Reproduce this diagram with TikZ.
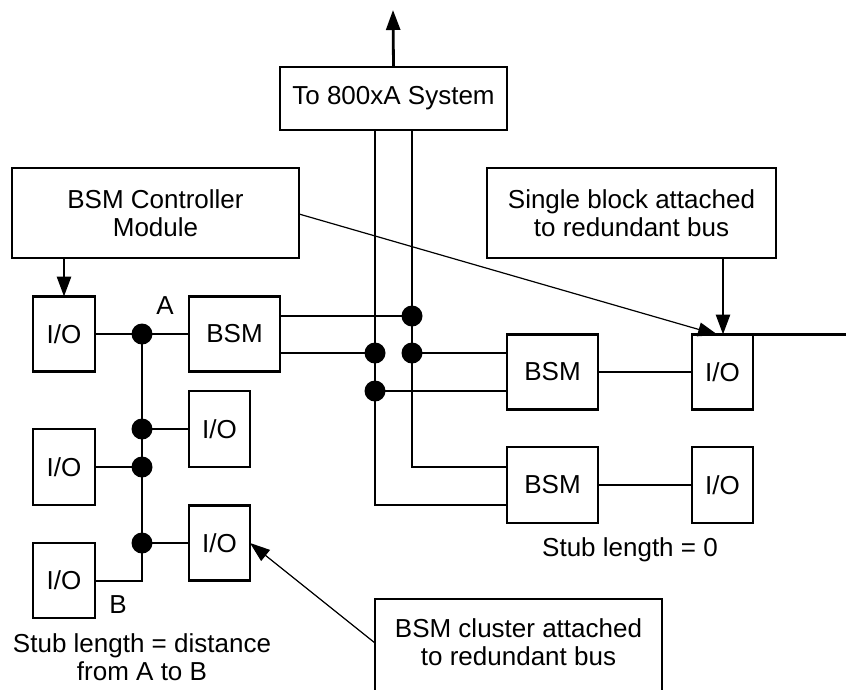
\documentclass[tikz,border=0pt]{standalone}
\usepackage{fontspec}
\setmainfont{Liberation Sans}
\usetikzlibrary{arrows.meta}
\begin{document}
\begin{tikzpicture}[x=1pt,y=-1pt,
  box/.style={draw,line width=2.8pt,inner sep=0pt,outer sep=0pt,align=center,
    font=\fontsize{26}{28}\selectfont},
  lbl/.style={inner sep=0pt,align=center,font=\fontsize{26}{28}\selectfont},
  bus/.style={line width=2.8pt},
  thin/.style={line width=1.2pt},
  dot/.style={circle,fill=black,inner sep=0pt,minimum size=21pt},
  tip/.style={-{Triangle[length=20pt,width=14pt]}}]
\useasboundingbox (0,0) rectangle (846,689);
% boxes
\node[box,minimum width=227pt,minimum height=63pt] (sys) at (393.5,98.5) {To 800xA System};
\node[box,minimum width=287pt,minimum height=90pt] (ctrl) at (155.5,213) {BSM Controller\\Module};
\node[box,minimum width=289pt,minimum height=90pt] (single) at (631.5,213) {Single block attached\\to redundant bus};
\node[box,minimum width=62pt,minimum height=75pt] (io1) at (64,334) {I/O};
\node[box,minimum width=91pt,minimum height=75pt] (bsmA) at (234.5,334) {BSM};
\node[box,minimum width=61pt,minimum height=76pt] (io2) at (219.5,429) {I/O};
\node[box,minimum width=62pt,minimum height=76pt] (io3) at (64,467) {I/O};
\node[box,minimum width=61pt,minimum height=75pt] (io4) at (219.5,543) {I/O};
\node[box,minimum width=62pt,minimum height=75pt] (io5) at (64,580.5) {I/O};
\node[box,minimum width=91pt,minimum height=75pt] (bsm1) at (552.5,372) {BSM};
\node[box,minimum width=61pt,minimum height=75pt] (ior1) at (722.5,372) {I/O};
\node[box,minimum width=91pt,minimum height=76pt] (bsm2) at (552.5,485) {BSM};
\node[box,minimum width=61pt,minimum height=76pt] (ior2) at (722.5,485) {I/O};
% cluster box (open at the bottom edge)
\coordinate (cl1) at (375,700);
\coordinate (cl2) at (375,599);
\coordinate (cl3) at (662,599);
\coordinate (cl4) at (662,700);
\draw[bus] (cl1) -- (cl2) -- (cl3) -- (cl4);
\node[lbl] (cltext) at (518.5,642) {BSM cluster attached\\to redundant bus};
% labels
\node[lbl] (labA) at (165,306) {A};
\node[lbl] (labB) at (118,605) {B};
\node[lbl] (stub1) at (142,657) {Stub length = distance\\from A to B};
\node[lbl] (stub2) at (630,550) {Stub length = 0};
% dots
\node[dot] (dA) at (142,334) {};
\node[dot] (dB) at (142,429) {};
\node[dot] (dC) at (142,467) {};
\node[dot] (dD) at (142,543) {};
\node[dot] (r1) at (412,316) {};
\node[dot] (r2) at (375,353) {};
\node[dot] (r3) at (412,353) {};
\node[dot] (r4) at (375,391) {};
\coordinate (top) at (393,10);
\coordinate (cB) at (142,581);
\coordinate (busLb) at (375,505);
\coordinate (busRb) at (412,467);
\coordinate (rightend) at (846,334.5);
\coordinate (clstart) at (375,643);
% system connections
\draw[bus,tip] (sys.north) -- (top);
\draw[bus] (sys.south -| r2) -- (busLb) -- (bsm2.west |- busLb);
\draw[bus] (sys.south -| r1) -- (busRb) -- (bsm2.west |- busRb);
\draw[bus] (bsmA.east |- r1) -- (r1.center);
\draw[bus] (bsmA.east |- r2) -- (r2.center);
\draw[bus] (r3.center) -- (bsm1.west |- r3);
\draw[bus] (r4.center) -- (bsm1.west |- r4);
\draw[bus] (bsm1.east) -- (ior1.west);
\draw[bus] (ior1.north east) -- (rightend);
\draw[bus] (bsm2.east) -- (ior2.west);
% arrows from boxes
\draw[bus,tip] (single.south -| 723,0) -- (ior1.north -| 723,0);
\draw[thin,tip] (ctrl.east |- 0,214) -- (718,335);
\draw[bus,tip] (ctrl.south -| io1.north) -- (io1.north);
\draw[thin,tip] (clstart) -- (io4.east);
% left cluster
\draw[bus] (io1.east) -- (dA.center) -- (bsmA.west);
\draw[bus] (dA.center) -- (cB) -- (io5.east |- cB);
\draw[bus] (dB.center) -- (io2.west);
\draw[bus] (dC.center) -- (io3.east);
\draw[bus] (dD.center) -- (io4.west);
\end{tikzpicture}
\end{document}
